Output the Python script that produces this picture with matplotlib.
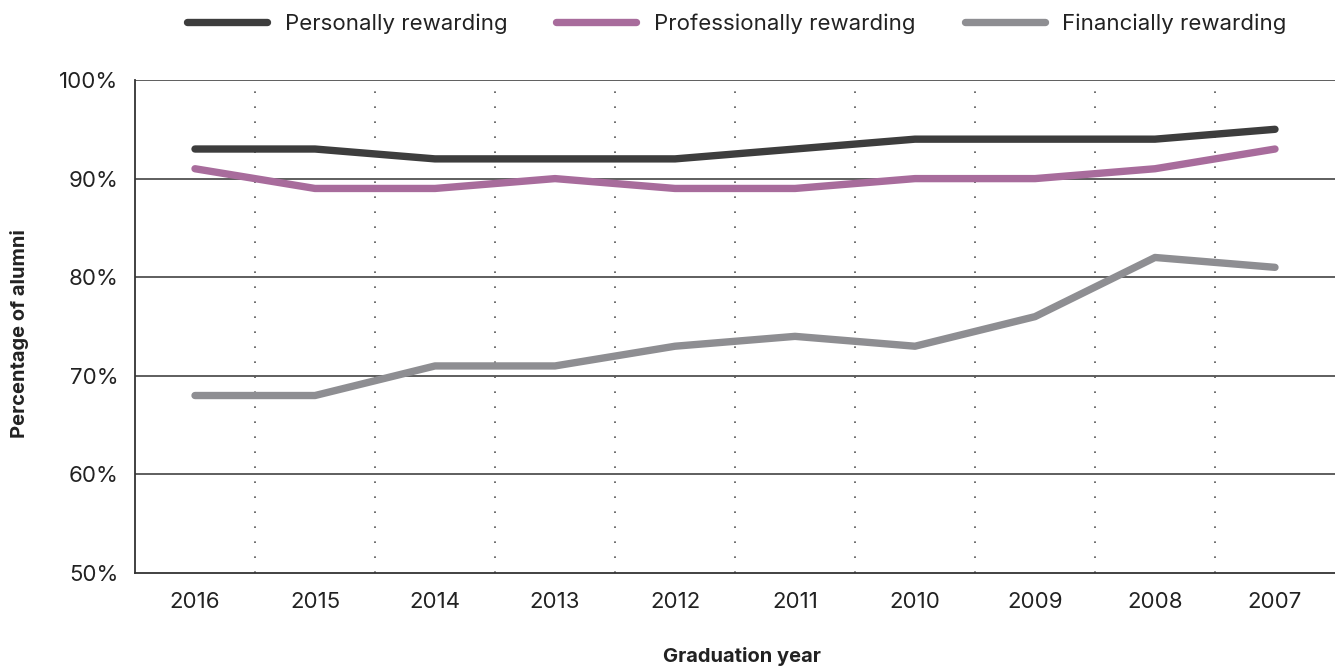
import matplotlib
matplotlib.use("Agg")
import matplotlib.pyplot as plt
from matplotlib.lines import Line2D

years = ["2016", "2015", "2014", "2013", "2012", "2011", "2010", "2009", "2008", "2007"]
personal = [93, 93, 92, 92, 92, 93, 94, 94, 94, 95]
professional = [91, 89, 89, 90, 89, 89, 90, 90, 91, 93]
financial = [68, 68, 71, 71, 73, 74, 73, 76, 82, 81]
series_names = ["Personally rewarding", "Professionally rewarding", "Financially rewarding"]
yticks = [50, 60, 70, 80, 90, 100]

colors = ["#3d3d3d", "#a86c9c", "#8e8e92"]
plt.rcParams['font.family'] = ['Inter', 'DejaVu Sans']

fig = plt.figure(figsize=(13.35, 6.68), dpi=100)
ax = fig.add_axes([135/1335, (668-573)/668, 1200/1335, (573-80)/668])

x = list(range(len(years)))
for vals, c, name in zip([personal, professional, financial], colors, series_names):
    ax.plot(x, vals, color=c, lw=5.3, solid_capstyle='round', solid_joinstyle='round', label=name, zorder=3)

ax.set_xlim(-0.5, len(years) - 0.5)
ax.set_ylim(50, 100)
ax.set_yticks(yticks)
ax.set_yticklabels([f"{v}%" for v in yticks])
ax.set_xticks(x)
ax.set_xticklabels(years)
ax.tick_params(axis='both', length=0, labelsize=16, colors='#222222')
ax.tick_params(axis='y', pad=12)
ax.tick_params(axis='x', pad=14)

for v in yticks[1:]:
    ax.axhline(v, color='#333333', lw=1.1, zorder=1)
for b in range(1, len(years)):
    ax.axvline(b - 0.5, color='#555555', lw=1.2, linestyle=(0, (1, 8)), zorder=1)

for s in ['top', 'right']:
    ax.spines[s].set_visible(False)
for s in ['left', 'bottom']:
    ax.spines[s].set_color('#333333')
    ax.spines[s].set_linewidth(1.3)

fig.text(20/1335, 1 - 334/668, "Percentage of alumni", rotation=90, ha='center', va='center',
         fontsize=14.5, fontweight='bold', color='#222222')
fig.text(742/1335, 1 - 657/668, "Graduation year", ha='center', va='center',
         fontsize=14.5, fontweight='bold', color='#222222')

handles = [Line2D([0], [0], color=c, lw=5.3, solid_capstyle='round') for c in colors]
fig.legend(handles, series_names, loc='center', bbox_to_anchor=(737/1335, 1 - 24/668), ncol=3,
           frameon=False, fontsize=16, handlelength=3.6, handletextpad=0.8, columnspacing=2.2,
           labelcolor='#222222')

fig.savefig("out.png", dpi=100)
